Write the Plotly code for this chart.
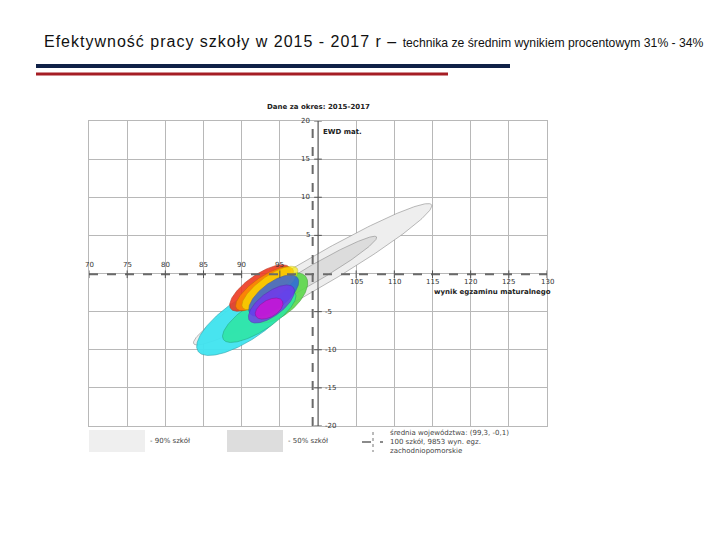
import numpy as np
import plotly.graph_objects as go

# ---------------- data ----------------
x_ticks = [70, 75, 80, 85, 90, 95, 105, 110, 115, 120, 125, 130]
y_ticks_pos = [20, 15, 10, 5]
y_ticks_neg = [-5, -10, -15, -20]
avg_x, avg_y = 99.3, -0.1

# ellipses: center x, center y, semi-major, semi-minor, angle (deg)
ell_names = ["90% szkół", "50% szkół", "cyan", "green", "springgreen", "red", "orange",
             "yellow", "blue", "purple", "magenta"]
ell_cx = [99.3, 99.3, 90.5, 95.0, 92.3, 92.4, 93.0, 93.7, 94.2, 93.9, 93.6]
ell_cy = [-0.1, -0.1, -6.0, -3.2, -5.6, -1.9, -2.0, -1.9, -2.9, -4.0, -4.6]
ell_a = [18.05, 9.7, 7.5, 4.4, 5.6, 4.7, 4.5, 4.4, 3.9, 3.6, 2.0]
ell_b = [2.0, 1.1, 2.7, 2.2, 1.9, 1.75, 1.55, 1.5, 1.7, 1.55, 1.1]
ell_ang = [30.3, 30.3, 34, 40, 33, 35, 35, 36, 37, 37, 30]
ell_fill = ["#eeeeee", "#dcdcdc", "#40e4f0", "#5cd84a", "#2ee6a2", "#ee3a22", "#ff8c00",
            "#f7ea00", "#2a5ee8", "#7436ee", "#cc14d4"]
ell_line = ["#8c8c8c", "#8c8c8c", "#2aa0a8", "#3a9a30", "#20a070", "#b02a18", "#c06a00",
            "#b0a800", "#2248b0", "#5a24b0", "#901090"]
ell_opacity = [1, 1, 0.95, 0.9, 0.85, 0.9, 0.85, 0.65, 0.8, 0.8, 0.85]

legend_labels = ["- 90% szkół", "- 50% szkół"]
avg_lines = ["średnia województwa: (99,3, -0,1)", "100 szkół, 9853 wyn. egz.",
             "zachodniopomorskie"]

# ---------------- figure ----------------
OFF = 8                       # page body margin
W, H = 720 - OFF, 540 - OFF
L, R, T, B = 89, 547, 121, 426   # plot area in screen pixels


def px(x):
    return (x - L) / (R - L)


def py(y):
    return (B - y) / (B - T)


fig = go.Figure()

t = np.linspace(0, 2 * np.pi, 240)
for i, n in enumerate(ell_names):
    th = np.radians(ell_ang[i])
    u = ell_a[i] * np.cos(t)
    v = ell_b[i] * np.sin(t)
    xs = ell_cx[i] + u * np.cos(th) - v * np.sin(th)
    ys = ell_cy[i] + u * np.sin(th) + v * np.cos(th)
    fig.add_trace(go.Scatter(x=xs, y=ys, mode="lines", fill="toself", name=n,
                             fillcolor=ell_fill[i], opacity=ell_opacity[i],
                             line=dict(color=ell_line[i], width=0.6),
                             hoverinfo="skip", showlegend=False))

shapes = []
annots = []
axis_col = "#555555"
# dashed average lines
shapes.append(dict(type="line", xref="x", yref="y", x0=avg_x, x1=avg_x, y0=-20, y1=20,
                   line=dict(color="#6a6a6a", width=2, dash="dash")))
shapes.append(dict(type="line", xref="x", yref="y", x0=70, x1=130.8, y0=avg_y, y1=avg_y,
                   line=dict(color="#6a6a6a", width=2, dash="dash")))
# solid y axis at x=100
shapes.append(dict(type="line", xref="x", yref="y", x0=100, x1=100, y0=-20, y1=20.5,
                   line=dict(color=axis_col, width=1)))
# arrows
annots.append(dict(x=100, y=21.2, xref="x", yref="y", ax=0, ay=10,
                   text="", showarrow=True, arrowhead=2, arrowsize=1.2, arrowwidth=1.2,
                   arrowcolor="#222222"))
annots.append(dict(x=131.3, y=avg_y, xref="x", yref="y", ax=-10, ay=0,
                   text="", showarrow=True, arrowhead=2, arrowsize=1.2, arrowwidth=1.2,
                   arrowcolor="#222222"))
# tick marks and labels
tick_font = dict(family="DejaVu Sans", size=7, color="#333333")
for v in y_ticks_pos + y_ticks_neg:
    shapes.append(dict(type="line", xref="x", yref="y", x0=99.5, x1=100.5, y0=v, y1=v,
                       line=dict(color=axis_col, width=1)))
for v in y_ticks_pos:
    annots.append(dict(x=99.2, y=v, xref="x", yref="y", text=str(v), showarrow=False,
                       xanchor="right", yanchor="middle", font=tick_font))
for v in y_ticks_neg:
    annots.append(dict(x=100.6, y=v, xref="x", yref="y", text=str(v), showarrow=False,
                       xanchor="left", yanchor="middle", font=tick_font))
for v in x_ticks:
    shapes.append(dict(type="line", xref="x", yref="y", x0=v, x1=v, y0=-0.6, y1=0.4,
                       line=dict(color=axis_col, width=1)))
    if v < 100:
        annots.append(dict(x=v, y=1.15, xref="x", yref="y", text=str(v), showarrow=False,
                           yanchor="middle", font=tick_font))
    else:
        annots.append(dict(x=v, y=-1.1, xref="x", yref="y", text=str(v), showarrow=False,
                           yanchor="middle", font=tick_font))

bold_font = dict(family="DejaVu Sans", size=7, color="#222222")
annots.append(dict(x=px(318), y=py(101), xref="paper", yref="paper",
                   text="<b>Dane za okres: 2015-2017</b>", showarrow=False, font=bold_font))
annots.append(dict(x=px(321), y=py(126), xref="paper", yref="paper",
                   xanchor="left", text="<b>EWD mat.</b>", showarrow=False, font=bold_font))
annots.append(dict(x=px(553), y=py(292), xref="paper", yref="paper",
                   xanchor="right", text="<b>wynik egzaminu maturalnego</b>",
                   showarrow=False, font=bold_font))

# legend
leg_font = dict(family="DejaVu Sans", size=7, color="#444444")
shapes.append(dict(type="rect", xref="paper", yref="paper", x0=px(89), x1=px(145),
                   y0=py(452), y1=py(430), fillcolor="#efefef", line=dict(width=0)))
shapes.append(dict(type="rect", xref="paper", yref="paper", x0=px(227), x1=px(283),
                   y0=py(452), y1=py(430), fillcolor="#dddddd", line=dict(width=0)))
annots.append(dict(x=px(148), y=py(441), xref="paper", yref="paper",
                   xanchor="left", yanchor="middle", text=legend_labels[0],
                   showarrow=False, font=leg_font))
annots.append(dict(x=px(286), y=py(441), xref="paper", yref="paper",
                   xanchor="left", yanchor="middle", text=legend_labels[1],
                   showarrow=False, font=leg_font))
shapes.append(dict(type="line", xref="paper", yref="paper", x0=px(362), x1=px(383),
                   y0=py(442), y1=py(442),
                   line=dict(color="#666666", width=1.5, dash="dash")))
shapes.append(dict(type="line", xref="paper", yref="paper", x0=px(373), x1=px(373),
                   y0=py(432), y1=py(452),
                   line=dict(color="#777777", width=1, dash="dot")))
for k, line_txt in enumerate(avg_lines):
    annots.append(dict(x=px(388), y=py(433 + 9 * k), xref="paper", yref="paper",
                       xanchor="left", yanchor="middle", text=line_txt, showarrow=False,
                       font=leg_font))

# slide title
annots.append(dict(x=px(42), y=py(42), xref="paper", yref="paper",
                   xanchor="left", yanchor="middle", showarrow=False,
                   text=("<span style='letter-spacing:1px'>"
                         "Efektywność pracy szkoły w 2015 - 2017 r – </span>"
                         "<span style='font-size:12.2px'>"
                         "technika ze średnim wynikiem procentowym 31% - 34%</span>"),
                   font=dict(family="Liberation Sans", size=16, color="#111111")))
shapes.append(dict(type="line", xref="paper", yref="paper", x0=px(36), x1=px(510),
                   y0=py(66), y1=py(66), line=dict(color="#0f2147", width=4)))
shapes.append(dict(type="line", xref="paper", yref="paper", x0=px(36), x1=px(448),
                   y0=py(74), y1=py(74), line=dict(color="#a51d24", width=3)))

grid_col = "#b8b8b8"
fig.update_layout(
    width=W, height=H,
    margin=dict(l=L - OFF, r=(720 - R), t=T - OFF, b=(540 - B)),
    paper_bgcolor="white", plot_bgcolor="white",
    xaxis=dict(range=[70, 130], dtick=5, tick0=70, showgrid=True, gridcolor=grid_col,
               gridwidth=1, zeroline=False, showticklabels=False, ticks="",
               showline=True, mirror=True, linecolor=grid_col, linewidth=1),
    yaxis=dict(range=[-20, 20], dtick=5, tick0=-20, showgrid=True, gridcolor=grid_col,
               gridwidth=1, zeroline=False, showticklabels=False, ticks="",
               showline=True, mirror=True, linecolor=grid_col, linewidth=1),
    shapes=shapes, annotations=annots, showlegend=False,
)

fig.write_html("out.html")
